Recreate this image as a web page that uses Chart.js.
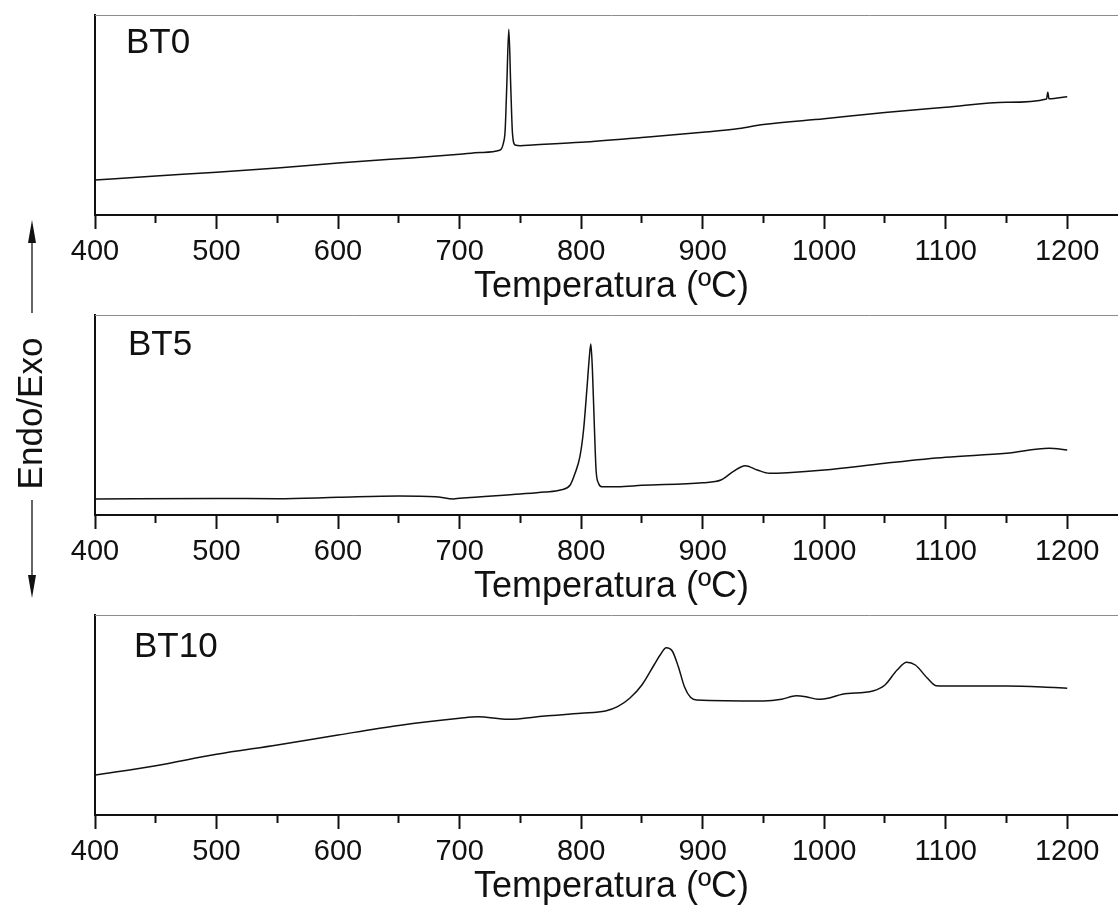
<!DOCTYPE html>
<html>
<head>
<meta charset="utf-8">
<script src="https://cdn.jsdelivr.net/npm/chart.js@4/dist/chart.umd.min.js"></script>
<style>
  html, body { margin: 0; padding: 0; background: #fff; overflow: hidden; }
  #wrap { position: relative; width: 1118px; height: 906px; overflow: hidden; background: #fff; }
  #wrap canvas { position: absolute; left: 0; }
  #side { position: absolute; left: 0; top: 0; }
</style>
</head>
<body>
<div id="wrap">
  <canvas id="cBT0" width="1200" height="320" style="top:0px"></canvas>
  <canvas id="cBT5" width="1200" height="320" style="top:300px"></canvas>
  <canvas id="cBT10" width="1200" height="320" style="top:600px"></canvas>
  <svg id="side" width="70" height="906">
    <line x1="32" y1="313" x2="32" y2="240" stroke="#111" stroke-width="1.3"/>
    <polygon points="28,243 36,243 32,220" fill="#111"/>
    <text transform="translate(42,413.5) rotate(-90)" text-anchor="middle"
          font-family="Liberation Sans, Arial, sans-serif" font-size="35" fill="#111">Endo/Exo</text>
    <line x1="32" y1="500" x2="32" y2="578" stroke="#111" stroke-width="1.3"/>
    <polygon points="28,575 36,575 32,598" fill="#111"/>
  </svg>
</div>
<script>
// Curvas DTA (sinal em unidades arbitrárias, 0-200)
const tempBT0 = [400, 450, 500, 550, 600, 640, 660, 700, 717, 733, 736, 737.5, 738.8, 740.5, 742.1, 743.5, 745.7, 750, 760, 800, 850, 900, 930, 950, 1000, 1050, 1100, 1150, 1183, 1184, 1185, 1200];
const sinalBT0 = [35, 39, 42.7, 47, 52, 55.5, 57, 60.7, 62.5, 64.7, 71.7, 85, 128.3, 185.7, 128.3, 82, 70, 69.3, 70, 72.7, 77.5, 82.7, 86.5, 90.5, 96.3, 102.5, 107.7, 112.7, 116.1, 122.7, 116.2, 118.3];

const tempBT5 = [400, 500, 550, 600, 650, 680, 695, 700, 750, 770, 783, 791, 795, 799, 802, 804.7, 806.8, 808, 809.3, 811, 812.3, 814.3, 817, 830, 850, 900, 915, 925, 935, 945, 955, 970, 1000, 1050, 1100, 1150, 1185, 1200];
const sinalBT5 = [16, 16.5, 16.3, 17.7, 19, 18.3, 16, 16.7, 21, 23, 25, 30, 41.7, 58.3, 85, 125, 158.3, 171, 145, 85, 45, 31.7, 28.3, 28.3, 29.7, 32.3, 35, 43.3, 49.3, 45, 41.7, 42.3, 45, 51.7, 57.7, 61.7, 66.7, 65];

const tempBT10 = [400, 450, 500, 550, 600, 650, 700, 715, 740, 770, 800, 820, 830, 840, 850, 860, 865, 870, 875, 880, 885, 890, 895, 950, 965, 977, 985, 995, 1005, 1015, 1040, 1050, 1060, 1068, 1075, 1085, 1092, 1100, 1150, 1180, 1200];
const sinalBT10 = [40, 49.3, 60.7, 70, 80, 89.5, 96.7, 98.3, 95.7, 99, 101.7, 104, 108.3, 116.7, 130, 150, 160, 167.3, 164, 148.3, 128.3, 117.7, 115, 114, 115.7, 119.3, 118.3, 115.7, 117.3, 120.7, 124, 130, 145, 152.7, 150, 136.7, 129.3, 129, 129, 128, 126.7];

// Eixo X
const xMin = 400;
const xMax = 1250;
const xTitulo = 'Temperatura (ºC)';

const FONTE = '"Liberation Sans", Arial, sans-serif';

// Plugin: borda superior cinza e rótulo da amostra
const decorPainel = {
  id: 'decorPainel',
  afterDraw(chart, args, opts) {
    const {ctx, chartArea} = chart;
    ctx.save();
    ctx.strokeStyle = '#8c8c8c';
    ctx.lineWidth = 1;
    ctx.beginPath();
    ctx.moveTo(chartArea.left, chartArea.top + 0.5);
    ctx.lineTo(chartArea.right, chartArea.top + 0.5);
    ctx.stroke();
    ctx.font = '35px ' + FONTE;
    ctx.fillStyle = '#111';
    ctx.textBaseline = 'alphabetic';
    ctx.fillText(opts.text, chartArea.left + opts.dx, chartArea.top + opts.dy);
    ctx.restore();
  }
};

function criarGrafico(id, temps, sinal, nome, dx, dy) {
  const pontos = temps.map((t, i) => ({x: t, y: sinal[i]}));
  return new Chart(document.getElementById(id).getContext('2d'), {
    type: 'line',
    data: {
      datasets: [{
        data: pontos,
        borderColor: '#111',
        borderWidth: 1.5,
        pointRadius: 0,
        fill: false,
        cubicInterpolationMode: 'monotone'
      }]
    },
    options: {
      responsive: false,
      animation: false,
      events: [],
      layout: { padding: { top: 15, right: 72, bottom: 10, left: 0 } },
      plugins: {
        legend: { display: false },
        tooltip: { enabled: false },
        decorPainel: { text: nome, dx: dx, dy: dy }
      },
      scales: {
        x: {
          type: 'linear',
          min: xMin,
          max: xMax,
          afterFit: s => { s.height = 95; },
          border: { display: true, color: '#111', width: 2 },
          grid: {
            display: true,
            drawOnChartArea: false,
            drawTicks: true,
            tickLength: 14,
            tickWidth: 2,
            tickColor: '#111',
            // marcas menores (a cada 50) mais curtas
            tickBorderDash: c => (c.tick && c.tick.value % 100 !== 0) ? [7, 200] : []
          },
          ticks: {
            stepSize: 50,
            padding: 6,
            color: '#111',
            font: { family: FONTE, size: 29 },
            maxRotation: 0,
            autoSkip: false,
            callback: v => (v % 100 === 0 ? String(v) : '')
          },
          title: {
            display: true,
            text: xTitulo,
            color: '#111',
            font: { family: FONTE, size: 36 },
            padding: { top: 0, bottom: 1 }
          }
        },
        y: {
          min: 0,
          max: 200,
          afterFit: s => { s.width = 95; },
          border: { display: true, color: '#111', width: 2 },
          grid: { display: true, drawOnChartArea: false, drawTicks: false },
          ticks: { display: false }
        }
      }
    },
    plugins: [decorPainel]
  });
}

const chartBT0 = criarGrafico('cBT0', tempBT0, sinalBT0, 'BT0', 31, 38);
const chartBT5 = criarGrafico('cBT5', tempBT5, sinalBT5, 'BT5', 33, 40);
const chartBT10 = criarGrafico('cBT10', tempBT10, sinalBT10, 'BT10', 39, 42);
</script>
</body>
</html>
